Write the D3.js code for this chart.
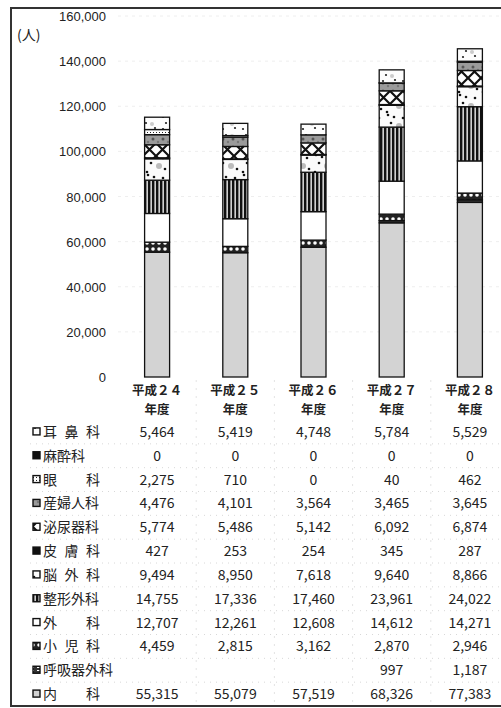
<!DOCTYPE html>
<html><head><meta charset="utf-8">
<script src="https://cdn.jsdelivr.net/npm/d3@7"></script>
<style>
html,body{margin:0;padding:0;background:#fff;}
svg{display:block;}
</style></head>
<body>
<script>
// ---- data ----
const years = ["平成２４", "平成２５", "平成２６", "平成２７", "平成２８"];
const yearSuffix = "年度";
const yTicks = [0, 20000, 40000, 60000, 80000, 100000, 120000, 140000, 160000];
const unitLabel = "(人)";
// series, bottom of stack first
const naika      = [55315, 55079, 57519, 68326, 77383];   // 内科
const kokyuki    = [null, null, null, 997, 1187];          // 呼吸器外科
const shonika    = [4459, 2815, 3162, 2870, 2946];         // 小児科
const geka       = [12707, 12261, 12608, 14612, 14271];    // 外科
const seikei     = [14755, 17336, 17460, 23961, 24022];    // 整形外科
const noge       = [9494, 8950, 7618, 9640, 8866];         // 脳外科
const hifuka     = [427, 253, 254, 345, 287];              // 皮膚科
const hinyoki    = [5774, 5486, 5142, 6092, 6874];         // 泌尿器科
const sanfujin   = [4476, 4101, 3564, 3465, 3645];         // 産婦人科
const ganka      = [2275, 710, 0, 40, 462];                // 眼科
const masuika    = [0, 0, 0, 0, 0];                        // 麻酔科
const jibika     = [5464, 5419, 4748, 5784, 5529];         // 耳鼻科

const seriesNames = ["内　　科", "呼吸器外科", "小 児 科", "外　　科", "整形外科", "脳 外 科",
                     "皮 膚 科", "泌尿器科", "産婦人科", "眼　　科", "麻酔科", "耳 鼻 科"];
const seriesValues = [naika, kokyuki, shonika, geka, seikei, noge, hifuka, hinyoki, sanfujin, ganka, masuika, jibika];
const seriesPattern = ["p-naika", "p-kokyu", "p-shoni", "p-white", "p-stripe", "p-dots", "p-black",
                       "p-cross", "p-gray", "p-fine", "p-black", "p-top"];

// ---- layout ----
const W = 501, H = 708;
const svg = d3.select("body").append("svg").attr("width", W).attr("height", H);
const defs = svg.append("defs");

function pat(id, w, h, draw) {
  const p = defs.append("pattern").attr("id", id).attr("patternUnits", "userSpaceOnUse")
    .attr("width", w).attr("height", h);
  draw(p);
}
pat("p-naika", 4, 4, p => p.append("rect").attr("width", 4).attr("height", 4).attr("fill", "#d3d3d3"));
pat("p-white", 4, 4, p => p.append("rect").attr("width", 4).attr("height", 4).attr("fill", "#fff"));
pat("p-black", 4, 4, p => p.append("rect").attr("width", 4).attr("height", 4).attr("fill", "#111"));
pat("p-kokyu", 6, 3, p => {
  p.append("rect").attr("width", 6).attr("height", 3).attr("fill", "#333");
  p.append("rect").attr("x", 1).attr("y", 1).attr("width", 3).attr("height", 1).attr("fill", "#fff");
});
pat("p-shoni", 6, 6, p => {
  p.append("rect").attr("width", 6).attr("height", 6).attr("fill", "#222");
  p.append("circle").attr("cx", 3).attr("cy", 3).attr("r", 1.8).attr("fill", "#fff");
});
pat("p-stripe", 4, 4, p => {
  p.append("rect").attr("width", 4).attr("height", 4).attr("fill", "#111");
  p.append("rect").attr("x", 2.5).attr("width", 1.3).attr("height", 4).attr("fill", "#fff");
});
pat("p-dots", 24, 20, p => {
  p.append("rect").attr("width", 24).attr("height", 20).attr("fill", "#fbfbfb");
  p.append("circle").attr("cx", 15).attr("cy", 6).attr("r", 3).attr("fill", "#bbb");
  [[3, 12], [4, 15], [21, 9], [10, 17], [19, 18], [7, 3]].forEach(([x, y]) =>
    p.append("circle").attr("cx", x).attr("cy", y).attr("r", 1.3).attr("fill", "#111"));
});
pat("p-cross", 13, 13, p => {
  p.append("rect").attr("width", 13).attr("height", 13).attr("fill", "#fff");
  p.append("path").attr("d", "M0,0L13,13M13,0L0,13").attr("stroke", "#111").attr("stroke-width", 2.2);
});
pat("p-gray", 10, 8, p => {
  p.append("rect").attr("width", 10).attr("height", 8).attr("fill", "#9a9a9a");
  p.append("circle").attr("cx", 3).attr("cy", 3).attr("r", 1.5).attr("fill", "#555");
  p.append("circle").attr("cx", 8).attr("cy", 6).attr("r", 1.2).attr("fill", "#777");
});
pat("p-fine", 3, 3, p => {
  p.append("rect").attr("width", 3).attr("height", 3).attr("fill", "#fff");
  p.append("rect").attr("width", 1).attr("height", 1).attr("fill", "#222");
});
pat("p-top", 20, 12, p => {
  p.append("rect").attr("width", 20).attr("height", 12).attr("fill", "#fdfdfd");
  [[6, 3], [15, 8], [3, 9]].forEach(([x, y]) =>
    p.append("circle").attr("cx", x).attr("cy", y).attr("r", 1.1).attr("fill", "#222"));
  p.append("circle").attr("cx", 12).attr("cy", 4).attr("r", 2).attr("fill", "#ccc");
});

const y = d3.scaleLinear().domain([0, 160000]).range([377, 16]);
const x = d3.scaleBand().domain(years).range([118, 509]).padding(0);
const barW = 25;
const cx = d => x(d) + x.bandwidth() / 2;

// gridlines (faint)
svg.append("g").selectAll("line").data(yTicks.slice(1)).join("line")
  .attr("x1", 118).attr("x2", 500).attr("y1", d => y(d)).attr("y2", d => y(d))
  .attr("stroke", "#eeeeee").attr("stroke-width", 1).attr("stroke-dasharray", "3,4");

// y axis labels
const yAxis = d3.axisLeft(y).tickValues(yTicks).tickFormat(d3.format(",")).tickSize(0).tickPadding(0);
const gy = svg.append("g").attr("transform", "translate(106,0)").call(yAxis);
gy.select(".domain").remove();
gy.selectAll("text").attr("font-family", "Liberation Sans, Arial, sans-serif")
  .attr("font-size", 13).attr("fill", "#222").attr("dy", "0.35em");

svg.append("text").attr("x", 17).attr("y", 40).text(unitLabel)
  .attr("font-family", "Noto Sans CJK JP").attr("font-size", 14).attr("fill", "#222");

// stacked bars
const stackRows = years.map((yr, i) => {
  const o = { year: yr };
  seriesNames.forEach((n, k) => o[n] = seriesValues[k][i] || 0);
  return o;
});
const stacked = d3.stack().keys(seriesNames)(stackRows);
const gBars = svg.append("g");
stacked.forEach((layer, k) => {
  gBars.append("g").selectAll("rect").data(layer.filter(d => d[1] > d[0])).join("rect")
    .attr("x", d => cx(d.data.year) - barW / 2)
    .attr("width", barW)
    .attr("y", d => y(d[1]))
    .attr("height", d => y(d[0]) - y(d[1]))
    .attr("fill", `url(#${seriesPattern[k]})`)
    .attr("stroke", "#111").attr("stroke-width", 1.3);
});

// table
const rowOrder = seriesNames.map((n, k) => k).reverse();
const rowY = d3.scaleBand().domain(rowOrder).range([420, 706]);
const rcy = k => rowY(k) + rowY.bandwidth() / 2;

// table faint lines
const gT = svg.append("g");
gT.selectAll("line.h").data(rowOrder.slice(1)).join("line")
  .attr("x1", 30).attr("x2", 500).attr("y1", k => rowY(k)).attr("y2", k => rowY(k))
  .attr("stroke", "#d8d8d8").attr("stroke-dasharray", "1,5");
gT.selectAll("line.v").data(years.slice(1)).join("line")
  .attr("x1", d => x(d)).attr("x2", d => x(d)).attr("y1", 380).attr("y2", 706)
  .attr("stroke", "#e4e4e4").attr("stroke-dasharray", "2,6");

// headers
const gH = svg.append("g").attr("font-family", "Noto Sans CJK JP").attr("font-size", 12.5)
  .attr("font-weight", 700).attr("fill", "#222").attr("text-anchor", "middle");
gH.selectAll("text.a").data(years).join("text").attr("x", cx).attr("y", 395).text(d => d);
gH.selectAll("text.b").data(years).join("text").attr("x", cx).attr("y", 414).text(yearSuffix);

// row labels + markers
const gL = svg.append("g");
gL.selectAll("rect").data(rowOrder).join("rect")
  .attr("x", 33).attr("y", k => rcy(k) - 4).attr("width", 7).attr("height", 7)
  .attr("fill", k => `url(#${seriesPattern[k]})`).attr("stroke", "#111").attr("stroke-width", 1.4);
gL.selectAll("text").data(rowOrder).join("text")
  .attr("x", 43).attr("y", k => rcy(k) + 5)
  .attr("font-family", "Noto Sans CJK JP").attr("font-size", 14).attr("fill", "#222")
  .each(function (k) {
    const t = seriesNames[k];
    const s = d3.select(this).text(t);
    if (/[ 　]/.test(t)) s.attr("textLength", 57).attr("lengthAdjust", "spacing");
  });

// values
const fmt = d3.format(",");
const gV = svg.append("g").attr("font-family", "Noto Sans CJK JP").attr("font-size", 14)
  .attr("fill", "#222").attr("text-anchor", "middle");
rowOrder.forEach(k => {
  gV.append("g").selectAll("text").data(seriesValues[k].map((v, i) => ({ v, yr: years[i] })))
    .join("text").attr("x", d => cx(d.yr)).attr("y", rcy(k) + 5)
    .text(d => d.v == null ? "" : fmt(d.v));
});

// frame
svg.append("path").attr("d", "M501,8H11V706H501").attr("fill", "none")
  .attr("stroke", "#333").attr("stroke-width", 2);
</script>
</body></html>
